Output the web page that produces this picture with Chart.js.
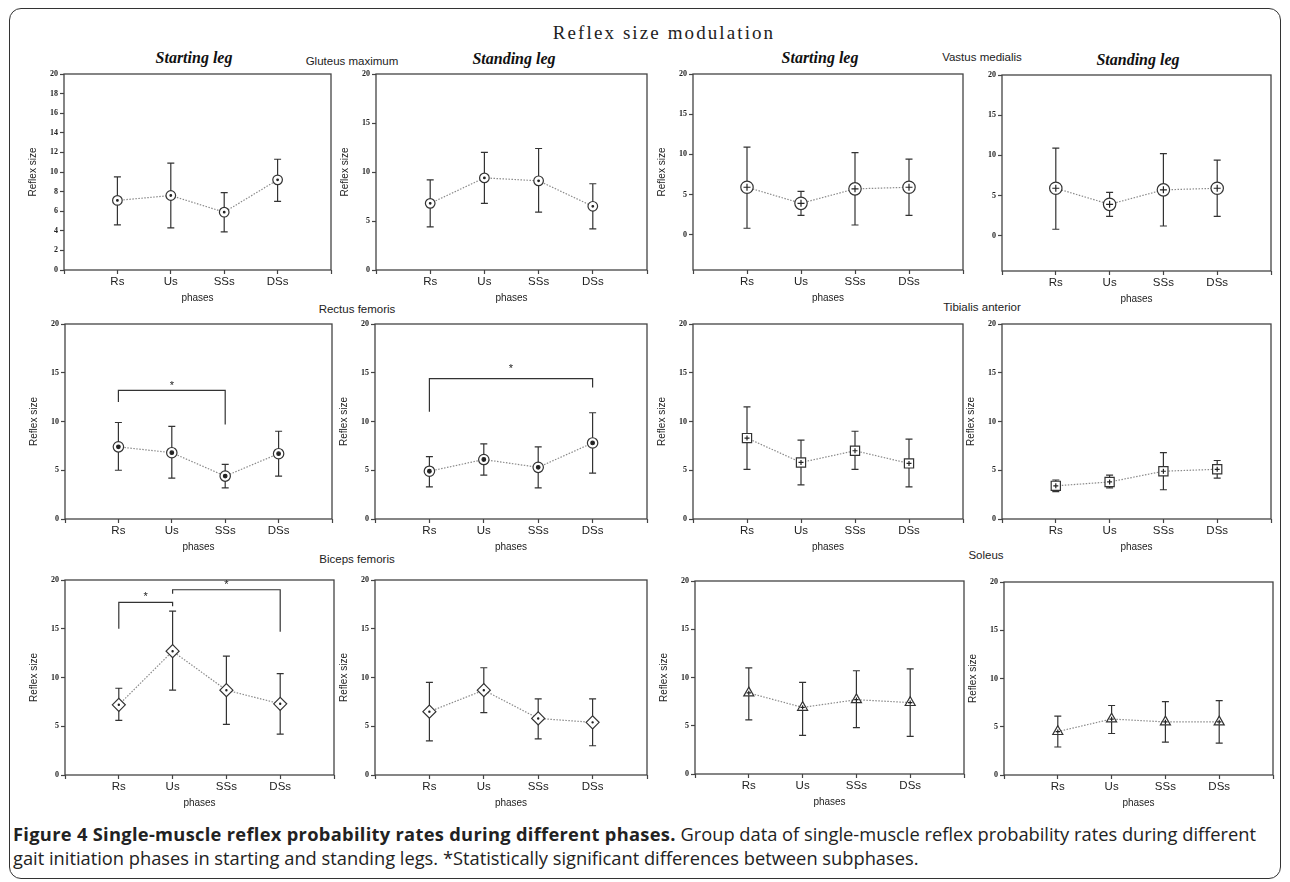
<!DOCTYPE html>
<html>
<head>
<meta charset="utf-8">
<script src="https://cdn.jsdelivr.net/npm/chart.js@4.4.1/dist/chart.umd.min.js"></script>
<style>
  body { margin: 0; background: #fff; width: 1290px; height: 882px; position: relative; overflow: hidden; font-family: 'Liberation Sans', Arial, sans-serif; }
  .frame { position: absolute; left: 9px; top: 8px; width: 1272px; height: 871px; border: 1.6px solid #333; border-radius: 12px; box-sizing: border-box; }
  .txt { position: absolute; white-space: nowrap; transform: translate(-50%, -50%); color: #222; }
  .main { font-family: 'Liberation Serif', serif; font-size: 19px; letter-spacing: 2.1px; }
  .leg { font-family: 'Liberation Serif', serif; font-style: italic; font-weight: bold; font-size: 16px; color: #111; }
  .muscle { font-family: 'Liberation Sans Narrow', 'Liberation Sans', sans-serif; font-size: 11.5px; }
  .cap { position: absolute; left: 13px; font-family: 'Open Sans', sans-serif; font-size: 18.3px; color: #222; white-space: nowrap; transform: translateY(-50%); }
  .cap b { letter-spacing: 0.3px; }
  canvas { position: absolute; }
</style>
</head>
<body>
<div class="frame"></div>

<div class="txt main" style="left:664px;top:33px">Reflex size modulation</div>
<div class="txt leg" style="left:194px;top:58px">Starting leg</div>
<div class="txt leg" style="left:514px;top:59px">Standing leg</div>
<div class="txt leg" style="left:820px;top:58px">Starting leg</div>
<div class="txt leg" style="left:1138px;top:60px">Standing leg</div>
<div class="txt muscle" style="left:352px;top:61px">Gluteus maximum</div>
<div class="txt muscle" style="left:982px;top:57px">Vastus medialis</div>
<div class="txt muscle" style="left:357px;top:309px">Rectus femoris</div>
<div class="txt muscle" style="left:982px;top:307px">Tibialis anterior</div>
<div class="txt muscle" style="left:357px;top:559px">Biceps femoris</div>
<div class="txt muscle" style="left:986px;top:555px">Soleus</div>

<canvas id="gmStart"></canvas>
<canvas id="gmStand"></canvas>
<canvas id="vmStart"></canvas>
<canvas id="vmStand"></canvas>
<canvas id="rfStart"></canvas>
<canvas id="rfStand"></canvas>
<canvas id="taStart"></canvas>
<canvas id="taStand"></canvas>
<canvas id="bfStart"></canvas>
<canvas id="bfStand"></canvas>
<canvas id="solStart"></canvas>
<canvas id="solStand"></canvas>

<div class="cap" style="top:833px"><b>Figure 4 Single-muscle reflex probability rates during different phases.</b> Group data of single-muscle reflex probability rates during different</div>
<div class="cap" style="top:857px">gait initiation phases in starting and standing legs. *Statistically significant differences between subphases.</div>

<script>
// phases on the x axis
const phases = ['Rs', 'Us', 'SSs', 'DSs'];

// Gluteus maximum
const gmStartMean = [7.1, 7.6, 5.9, 9.2];
const gmStartLo   = [4.6, 4.3, 3.9, 7.0];
const gmStartHi   = [9.5, 10.9, 7.9, 11.3];
const gmStandMean = [6.8, 9.4, 9.1, 6.5];
const gmStandLo   = [4.4, 6.8, 5.9, 4.2];
const gmStandHi   = [9.2, 12.0, 12.4, 8.8];

// Vastus medialis
const vmStartMean = [5.9, 3.9, 5.7, 5.9];
const vmStartLo   = [0.8, 2.4, 1.2, 2.4];
const vmStartHi   = [10.9, 5.4, 10.2, 9.4];
const vmStandMean = [5.9, 3.9, 5.7, 5.9];
const vmStandLo   = [0.8, 2.4, 1.2, 2.4];
const vmStandHi   = [10.9, 5.4, 10.2, 9.4];

// Rectus femoris
const rfStartMean = [7.4, 6.8, 4.4, 6.7];
const rfStartLo   = [5.0, 4.2, 3.2, 4.4];
const rfStartHi   = [9.9, 9.5, 5.6, 9.0];
const rfStandMean = [4.9, 6.1, 5.3, 7.8];
const rfStandLo   = [3.3, 4.5, 3.2, 4.7];
const rfStandHi   = [6.4, 7.7, 7.4, 10.9];

// Tibialis anterior
const taStartMean = [8.3, 5.8, 7.0, 5.7];
const taStartLo   = [5.1, 3.5, 5.1, 3.3];
const taStartHi   = [11.5, 8.1, 9.0, 8.2];
const taStandMean = [3.4, 3.8, 4.9, 5.1];
const taStandLo   = [2.8, 3.2, 3.0, 4.2];
const taStandHi   = [4.0, 4.5, 6.8, 6.0];

// Biceps femoris
const bfStartMean = [7.2, 12.7, 8.7, 7.3];
const bfStartLo   = [5.6, 8.7, 5.2, 4.2];
const bfStartHi   = [8.9, 16.8, 12.2, 10.4];
const bfStandMean = [6.5, 8.7, 5.8, 5.4];
const bfStandLo   = [3.5, 6.4, 3.7, 3.0];
const bfStandHi   = [9.5, 11.0, 7.8, 7.8];

// Soleus
const solStartMean = [8.4, 6.9, 7.7, 7.4];
const solStartLo   = [5.6, 4.0, 4.8, 3.9];
const solStartHi   = [11.0, 9.5, 10.7, 10.9];
const solStandMean = [4.5, 5.8, 5.5, 5.5];
const solStandLo   = [2.9, 4.3, 3.4, 3.3];
const solStandHi   = [6.1, 7.2, 7.6, 7.7];

// significance brackets: [from phase, to phase, left end, top, right end, star]
const rfStartSig = [[1, 3, 12.0, 13.2, 9.7, 13.9]];
const rfStandSig = [[1, 4, 11.0, 14.4, 13.5, 15.6]];
const bfStartSig = [[1, 2, 15.0, 17.7, 17.3, 18.5], [2, 4, 18.6, 19.0, 14.7, 19.7]];

const markers = {
    gm:  { style: 'circle',   r: 4.8, inner: 'circle', ir: 0.8 },
    vm:  { style: 'circle',   r: 6.2, inner: 'cross',  ir: 3.5 },
    rf:  { style: 'circle',   r: 5.2, inner: 'circle', ir: 1.8 },
    ta:  { style: 'rect',     r: 6.5, inner: 'cross',  ir: 2.5 },
    bf:  { style: 'rectRot',  r: 6.5, inner: 'circle', ir: 0.6 },
    sol: { style: 'triangle', r: 5.8, inner: 'cross',  ir: 2.2 }
};

// box, error bars and brackets
const figPlugin = {
    id: 'figPlugin',
    beforeDatasetsDraw(chart) {
        const { ctx, chartArea: a, scales: { x, y } } = chart;
        const o = chart.options.plugins.figPlugin;
        ctx.save();
        ctx.strokeStyle = '#444';
        ctx.lineWidth = 1.3;
        ctx.strokeRect(a.left, a.top, a.right - a.left, a.bottom - a.top);
        ctx.strokeStyle = '#333';
        ctx.lineWidth = 1.2;
        o.lo.forEach((lo, i) => {
            const px = x.getPixelForValue(i + 1);
            const y1 = y.getPixelForValue(lo);
            const y2 = y.getPixelForValue(o.hi[i]);
            ctx.beginPath();
            ctx.moveTo(px, y1); ctx.lineTo(px, y2);
            ctx.moveTo(px - 3.5, y1); ctx.lineTo(px + 3.5, y1);
            ctx.moveTo(px - 3.5, y2); ctx.lineTo(px + 3.5, y2);
            ctx.stroke();
        });
        ctx.restore();
    },
    afterDatasetsDraw(chart) {
        const { ctx, scales: { x, y } } = chart;
        const o = chart.options.plugins.figPlugin;
        if (!o.sig) return;
        ctx.save();
        ctx.strokeStyle = '#333';
        ctx.fillStyle = '#222';
        ctx.lineWidth = 1.2;
        ctx.font = '11px "Liberation Sans"';
        ctx.textAlign = 'center';
        ctx.textBaseline = 'middle';
        o.sig.forEach(s => {
            const x1 = x.getPixelForValue(s[0]);
            const x2 = x.getPixelForValue(s[1]);
            ctx.beginPath();
            ctx.moveTo(x1, y.getPixelForValue(s[2]));
            ctx.lineTo(x1, y.getPixelForValue(s[3]));
            ctx.lineTo(x2, y.getPixelForValue(s[3]));
            ctx.lineTo(x2, y.getPixelForValue(s[4]));
            ctx.stroke();
            ctx.fillText('*', (x1 + x2) / 2, y.getPixelForValue(s[5]) + 2);
        });
        ctx.restore();
    }
};

function makePanel(id, box, mean, lo, hi, mk, yMin, yStep, sig, yTitle) {
    const cv = document.getElementById(id);
    const padL = 45, padT = 8, padR = 8, padB = 36;
    const showTitle = yTitle !== false;
    cv.width = box[2] - box[0] + padL + padR;
    cv.height = box[3] - box[1] + padT + padB;
    cv.style.left = (box[0] - padL) + 'px';
    cv.style.top = (box[1] - padT) + 'px';
    const pts = mean.map((v, i) => ({ x: i + 1, y: v }));

    new Chart(cv.getContext('2d'), {
        type: 'line',
        data: {
            datasets: [
                {
                    data: pts,
                    order: 0,
                    showLine: false,
                    pointStyle: mk.inner,
                    pointRadius: mk.ir,
                    pointBackgroundColor: '#222',
                    pointBorderColor: '#222',
                    pointBorderWidth: 1.2
                },
                {
                    data: pts,
                    order: 1,
                    borderColor: '#8a8a8a',
                    borderWidth: 1.2,
                    borderDash: [1.5, 1.5],
                    pointStyle: mk.style,
                    pointRadius: mk.r,
                    pointBackgroundColor: '#fff',
                    pointBorderColor: '#333',
                    pointBorderWidth: 1.2
                }
            ]
        },
        options: {
            responsive: false,
            animation: false,
            devicePixelRatio: 1,
            layout: { padding: { top: padT, right: padR, left: 0, bottom: 0 } },
            plugins: {
                legend: { display: false },
                tooltip: { enabled: false },
                figPlugin: { lo: lo, hi: hi, sig: sig }
            },
            scales: {
                x: {
                    type: 'linear', min: 0, max: 5,
                    afterFit: s => { s.height = padB; },
                    ticks: {
                        stepSize: 1, autoSkip: false, maxRotation: 0, padding: 1,
                        color: '#222', font: { size: 11.5, family: 'Liberation Sans' },
                        callback: v => phases[v - 1] || ''
                    },
                    grid: { drawOnChartArea: false, tickLength: 4, color: '#444', tickColor: '#444', tickWidth: 1.2 },
                    border: { display: false },
                    title: { display: true, text: 'phases', color: '#222', font: { size: 10, family: 'Liberation Sans' }, padding: { top: 0, bottom: 2 } }
                },
                y: {
                    min: yMin, max: 20,
                    afterFit: s => { s.width = padL; },
                    ticks: {
                        stepSize: yStep, includeBounds: false, padding: 2,
                        color: '#222', font: { size: 8, weight: 'bold', family: 'Liberation Sans Narrow' }
                    },
                    grid: { drawOnChartArea: false, tickLength: 4, color: '#444', tickColor: '#444', tickWidth: 1.2 },
                    border: { display: false },
                    title: { display: showTitle, text: showTitle ? 'Reflex size' : '', color: '#222', font: { size: 10, family: 'Liberation Sans' }, padding: { top: 8, bottom: 0 } }
                }
            }
        },
        plugins: [figPlugin]
    });
}

// plot boxes: [left, top, right, bottom]
makePanel('gmStart', [64, 74, 331, 270], gmStartMean, gmStartLo, gmStartHi, markers.gm, 0, 2);
makePanel('gmStand', [376, 74, 647, 270], gmStandMean, gmStandLo, gmStandHi, markers.gm, 0, 5);
makePanel('vmStart', [693, 74, 963, 270], vmStartMean, vmStartLo, vmStartHi, markers.vm, -4.4, 5);
makePanel('vmStand', [1002, 75, 1271, 271], vmStandMean, vmStandLo, vmStandHi, markers.vm, -4.4, 5, null, false);
makePanel('rfStart', [65, 324, 332, 519], rfStartMean, rfStartLo, rfStartHi, markers.rf, 0, 5, rfStartSig);
makePanel('rfStand', [375, 324, 647, 519], rfStandMean, rfStandLo, rfStandHi, markers.rf, 0, 5, rfStandSig);
makePanel('taStart', [693, 324, 963, 519], taStartMean, taStartLo, taStartHi, markers.ta, 0, 5);
makePanel('taStand', [1002, 324, 1271, 519], taStandMean, taStandLo, taStandHi, markers.ta, 0, 5);
makePanel('bfStart', [65, 580, 334, 775], bfStartMean, bfStartLo, bfStartHi, markers.bf, 0, 5, bfStartSig);
makePanel('bfStand', [375, 580, 647, 775], bfStandMean, bfStandLo, bfStandHi, markers.bf, 0, 5);
makePanel('solStart', [695, 581, 964, 774], solStartMean, solStartLo, solStartHi, markers.sol, 0, 5);
makePanel('solStand', [1004, 582, 1273, 775], solStandMean, solStandLo, solStandHi, markers.sol, 0, 5);
</script>
</body>
</html>
